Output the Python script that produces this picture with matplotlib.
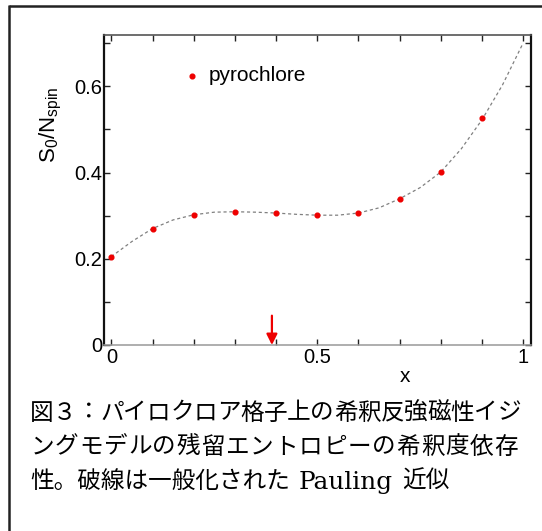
import matplotlib
matplotlib.use("Agg")
import matplotlib.pyplot as plt
from matplotlib.lines import Line2D
from matplotlib.ticker import FixedLocator, FixedFormatter

# ---- data ----
x_points = [0.0, 0.1, 0.2, 0.3, 0.4, 0.5, 0.6, 0.7, 0.8, 0.9]
s_points = [0.205, 0.270, 0.302, 0.309, 0.306, 0.301, 0.306, 0.339, 0.401, 0.526]

x_curve = [0.0, 0.05, 0.1, 0.15, 0.2, 0.25, 0.3, 0.35, 0.4, 0.45, 0.5,
           0.55, 0.6, 0.65, 0.7, 0.75, 0.8, 0.85, 0.9, 0.95, 1.0]
s_curve = [0.205, 0.240, 0.270, 0.290, 0.302, 0.308, 0.309, 0.308, 0.306, 0.303, 0.301,
           0.301, 0.306, 0.318, 0.339, 0.365, 0.401, 0.455, 0.522, 0.603, 0.700]

x_threshold = 0.39

x_ticks = [0.0, 0.1, 0.2, 0.3, 0.4, 0.5, 0.6, 0.7, 0.8, 0.9, 1.0]
x_ticklabels = ["0", "", "", "", "", "0.5", "", "", "", "", "1"]
y_ticks = [0.0, 0.1, 0.2, 0.3, 0.4, 0.5, 0.6, 0.7]
y_ticklabels = ["0", "", "0.2", "", "0.4", "", "0.6", ""]

legend_label = "pyrochlore"
caption_lines = ["図３：パイロクロア格子上の希釈反強磁性イジ",
                 "ングモデルの残留エントロピーの希釈度依存"]
caption_line3 = ["性。破線は一般化された", "Pauling", "近似"]

W, H = 542, 531
fig = plt.figure(figsize=(W / 100, H / 100), dpi=100)
fig.patch.set_facecolor("white")

# outer frame (top and left edges)
fig.add_artist(Line2D([8.5 / W, 1.0], [1 - 5.5 / H] * 2, color="#222222", lw=1.8,
                      transform=fig.transFigure, solid_capstyle="butt"))
fig.add_artist(Line2D([8.5 / W] * 2, [0.0, 1 - 5.0 / H], color="#222222", lw=1.8,
                      transform=fig.transFigure, solid_capstyle="butt"))

ax_l, ax_r, ax_t, ax_b = 103.5, 530.5, 34.5, 345
ax = fig.add_axes([ax_l / W, 1 - ax_b / H, (ax_r - ax_l) / W, (ax_b - ax_t) / H])

ax.plot(x_curve, s_curve, color="#808080", lw=0.9, dashes=(2.5, 2.2), zorder=2)
ax.plot(x_points, s_points, "o", color="#ee0000", ms=3.4, mec="#ee0000", zorder=3)

ax.set_xlim(-0.019, 1.018)
ax.set_ylim(0, 0.72)

ax.annotate("", xy=(x_threshold, 0.0), xytext=(x_threshold, 0.068),
            arrowprops=dict(arrowstyle="-|>", color="#ee0000", lw=1.6,
                            mutation_scale=16, shrinkA=0, shrinkB=0), zorder=4)

fam = ["Liberation Sans", "DejaVu Sans"]
ax.xaxis.set_major_locator(FixedLocator(x_ticks))
ax.xaxis.set_major_formatter(FixedFormatter(x_ticklabels))
ax.yaxis.set_major_locator(FixedLocator(y_ticks))
ax.yaxis.set_major_formatter(FixedFormatter(y_ticklabels))
ax.tick_params(axis="both", direction="in", length=4.5, width=1.0, color="#222222",
               top=True, right=True, labelsize=14.5, pad=2)
ax.tick_params(axis="y", pad=1)
for lab in ax.get_xticklabels() + ax.get_yticklabels():
    lab.set_family(fam)

ax.spines["left"].set_linewidth(1.6)
ax.spines["left"].set_color("#111111")
ax.spines["right"].set_linewidth(1.6)
ax.spines["right"].set_color("#111111")
ax.spines["top"].set_linewidth(1.2)
ax.spines["top"].set_color("#555555")
ax.spines["bottom"].set_linewidth(1.1)
ax.spines["bottom"].set_color("#999999")

ax.set_ylabel(r"$\mathregular{S_0/N_{spin}}$", fontsize=16, family=fam)
ax.yaxis.set_label_coords(-0.092, 0.71)
ax.set_xlabel("x", fontsize=15, family=fam)
ax.xaxis.set_label_coords(0.705, -0.07)

# legend
ax.plot([0.197], [0.624], "o", color="#ee0000", ms=3.4)
ax.text(0.236, 0.624, legend_label, fontsize=15, family=fam, va="center", ha="left")

# caption (justified lines 1-2, natural line 3)
jp = ["Noto Sans CJK JP", "DejaVu Sans"]
cap_fs = 17.0
x0 = 30
line_ends = [521, 518]
for i, line in enumerate(caption_lines):
    n = len(line)
    cell = (line_ends[i] - x0) / n
    yy = 1 - (413 + 34 * i) / H
    for k, ch in enumerate(line):
        fig.text((x0 + (k + 0.5) * cell) / W, yy, ch, fontsize=cap_fs, family=jp,
                 va="center", ha="center")

renderer = fig.canvas.get_renderer()
y3 = 1 - 481 / H
t1 = fig.text(x0 / W, y3, caption_line3[0], fontsize=cap_fs, family=jp, va="center", ha="left")
bb = t1.get_window_extent(renderer)
t2 = fig.text((bb.x1 + 9) / W, y3 - 1 / H, caption_line3[1], fontsize=17.8,
              family=["DejaVu Serif"], va="center", ha="left")
bb2 = t2.get_window_extent(renderer)
fig.text((bb2.x1 + 9) / W, y3, caption_line3[2], fontsize=cap_fs, family=jp, va="center", ha="left")

fig.savefig("out.png", dpi=100, facecolor="white")
